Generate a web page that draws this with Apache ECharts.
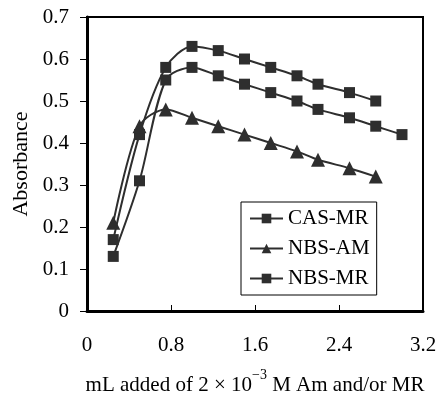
<!DOCTYPE html>
<html>
<head>
<meta charset="utf-8">
<script src="https://cdn.jsdelivr.net/npm/echarts@6/dist/echarts.min.js"></script>
<style>
  html, body { margin: 0; padding: 0; background: #fff; }
  #chart { width: 438px; height: 397px; }
</style>
</head>
<body>
<div id="chart"></div>
<script>
// values
const xCAS = [0.25, 0.5, 0.75, 1.0, 1.25, 1.5, 1.75, 2.0, 2.2, 2.5, 2.75];
const casMR = [0.17, 0.42, 0.58, 0.63, 0.62, 0.60, 0.58, 0.56, 0.54, 0.52, 0.50];
const xAM = [0.25, 0.5, 0.75, 1.0, 1.25, 1.5, 1.75, 2.0, 2.2, 2.5, 2.75];
const nbsAM = [0.21, 0.44, 0.48, 0.46, 0.44, 0.42, 0.40, 0.38, 0.36, 0.34, 0.32];
const xMR = [0.25, 0.5, 0.75, 1.0, 1.25, 1.5, 1.75, 2.0, 2.2, 2.5, 2.75, 3.0];
const nbsMR = [0.13, 0.31, 0.55, 0.58, 0.56, 0.54, 0.52, 0.50, 0.48, 0.46, 0.44, 0.42];
const seriesNames = ['CAS-MR', 'NBS-AM', 'NBS-MR'];

const font = 'Liberation Serif, Times New Roman, serif';
const ink = '#2e2e2e';
const pairs = (xs, ys) => xs.map((x, i) => [x, ys[i]]);

const chart = echarts.init(document.getElementById('chart'));

const line = (name, xs, ys, symbol, size) => ({
  name: name,
  type: 'line',
  data: pairs(xs, ys),
  smooth: 0.3,
  symbol: symbol,
  symbolSize: size,
  showAllSymbol: true,
  lineStyle: {color: ink, width: 2},
  itemStyle: {color: ink}
});

chart.setOption({
  animation: false,
  textStyle: {fontFamily: font, color: '#000'},
  grid: {
    left: 87, right: 15, top: 17, bottom: 86,
    outerBoundsMode: 'none', containLabel: false,
    show: true, borderColor: '#000', borderWidth: 2, backgroundColor: 'transparent'
  },
  legend: {
    orient: 'vertical',
    left: 241, top: 202,
    padding: [6, 7, 6, 8],
    itemWidth: 33, itemHeight: 12, itemGap: 9,
    backgroundColor: '#fff',
    borderColor: '#000', borderWidth: 1,
    textStyle: {fontFamily: font, fontSize: 21, color: '#000'},
    data: seriesNames
  },
  xAxis: {
    type: 'value',
    min: 0, max: 3.2, interval: 0.8,
    splitLine: {show: false},
    axisLine: {lineStyle: {color: '#000', width: 3}},
    axisTick: {inside: true, length: 6, lineStyle: {color: '#000', width: 1}},
    axisLabel: {fontFamily: font, fontSize: 21, color: '#000', margin: 24},
    name: '{n|mL added of 2 × 10}{s|−3}{n| M Am and/or MR}',
    nameLocation: 'middle',
    nameGap: 57,
    nameTextStyle: {
      rich: {
        n: {fontFamily: font, fontSize: 21, color: '#000', lineHeight: 28, verticalAlign: 'bottom'},
        s: {fontFamily: font, fontSize: 14, color: '#000', lineHeight: 14, verticalAlign: 'top'}
      }
    }
  },
  yAxis: {
    type: 'value',
    min: 0, max: 0.7, interval: 0.1,
    splitLine: {show: false},
    axisLine: {show: true, lineStyle: {color: '#000', width: 3}},
    axisTick: {show: true, length: 7, lineStyle: {color: '#000', width: 1}},
    axisLabel: {fontFamily: font, fontSize: 21, color: '#000', margin: 18},
    name: 'Absorbance',
    nameLocation: 'middle',
    nameGap: 53,
    nameTextStyle: {fontFamily: font, fontSize: 22, color: '#000'}
  },
  series: [
    line(seriesNames[0], xCAS, casMR, 'rect', 11),
    line(seriesNames[1], xAM, nbsAM, 'triangle', 14),
    line(seriesNames[2], xMR, nbsMR, 'rect', 11)
  ]
});
</script>
</body>
</html>
